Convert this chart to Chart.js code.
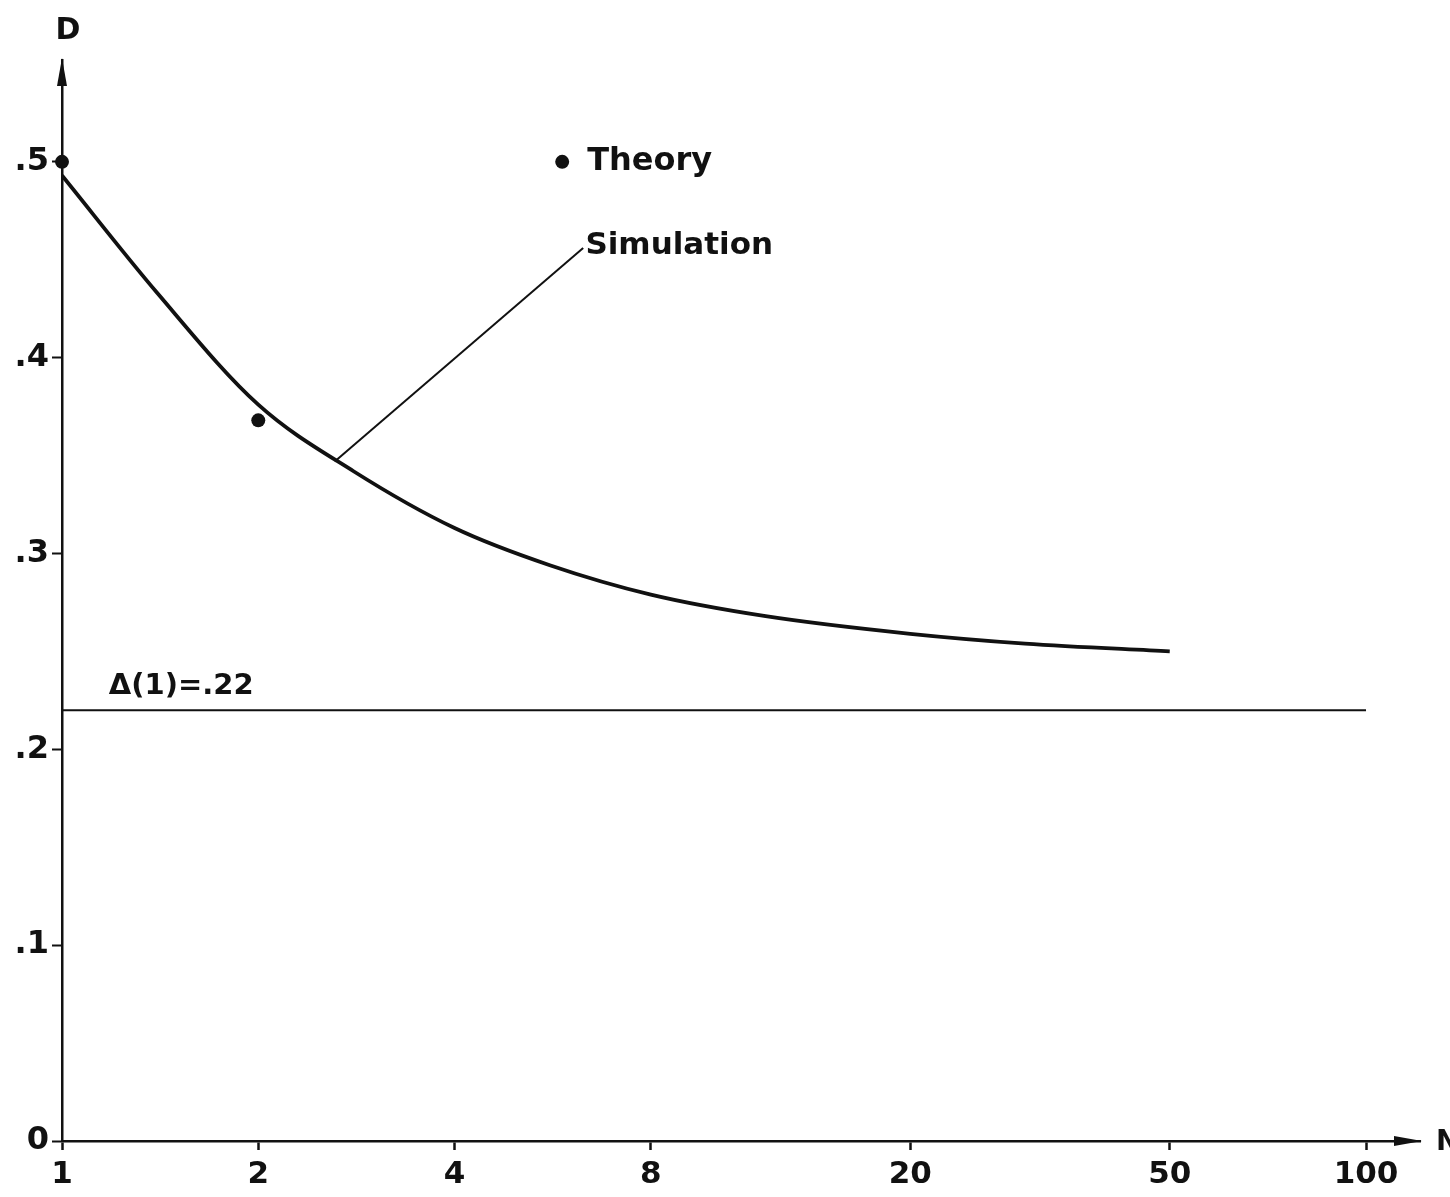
<!doctype html>
<html lang="en">
<head>
<meta charset="utf-8" />
<title>D vs N</title>
<script src="https://cdn.jsdelivr.net/npm/chart.js"></script>
<style>
  html, body { margin: 0; padding: 0; background: #fff; overflow: hidden; }
  canvas { display: block; }
</style>
</head>
<body>
<canvas id="chart" width="1450" height="1197"></canvas>
<script>
// simulation curve
const simN = [1, 1.4, 2, 2.8, 4, 5.6, 8, 12, 20, 30, 50];
const simD = [0.493, 0.433, 0.376, 0.342, 0.313, 0.294, 0.279, 0.268, 0.259, 0.254, 0.250];

// theory points
const theoryN = [1, 2];
const theoryD = [0.5, 0.368];

// asymptote
const deltaN = [1, 100];
const deltaD = [0.22, 0.22];

// leader line from curve to the "Simulation" label
const leaderN = [2.62, 6.3];
const leaderD = [0.347, 0.456];

const xTicks = [1, 2, 4, 8, 20, 50, 100];
const yTicks = [0, 0.1, 0.2, 0.3, 0.4, 0.5];
const yTickText = ["0", ".1", ".2", ".3", ".4", ".5"];

const INK = "#111";
const FONT = '"DejaVu Sans", sans-serif';

const pts = (xs, ys) => xs.map((x, i) => ({ x, y: ys[i] }));

// arrows, axis names and the free text labels
const decor = {
  id: "decor",
  afterDraw(chart) {
    const { ctx, chartArea: a, scales: { x, y } } = chart;
    ctx.save();
    ctx.fillStyle = INK;
    ctx.strokeStyle = INK;

    // y arrow head
    ctx.beginPath();
    ctx.moveTo(a.left, a.top - 2);
    ctx.lineTo(a.left - 5, a.top + 26);
    ctx.lineTo(a.left + 5, a.top + 26);
    ctx.closePath();
    ctx.fill();

    // x arrow head
    ctx.beginPath();
    ctx.moveTo(a.right + 2, a.bottom);
    ctx.lineTo(a.right - 26, a.bottom - 5);
    ctx.lineTo(a.right - 26, a.bottom + 5);
    ctx.closePath();
    ctx.fill();

    ctx.textBaseline = "middle";
    ctx.font = `bold 30px ${FONT}`;
    ctx.textAlign = "center";
    ctx.fillText("D", a.left + 6, 31);
    ctx.textAlign = "left";
    ctx.font = `bold 28px ${FONT}`;
    ctx.fillText("N", a.right + 16, a.bottom + 2);

    // legend marker for Theory
    const lx = x.getPixelForValue(5.85);
    const ly = y.getPixelForValue(0.5);
    ctx.beginPath();
    ctx.arc(lx, ly, 7, 0, Math.PI * 2);
    ctx.fill();
    ctx.font = `bold 32px ${FONT}`;
    ctx.fillText("Theory", lx + 25, ly);

    ctx.font = `600 31px ${FONT}`;
    ctx.fillText("Simulation", x.getPixelForValue(6.35), y.getPixelForValue(0.457));

    ctx.font = `600 29px ${FONT}`;
    ctx.fillText("\u0394(1)=.22", x.getPixelForValue(1.18), y.getPixelForValue(0.232));
    ctx.restore();
  }
};

new Chart(document.getElementById("chart"), {
  type: "line",
  data: {
    datasets: [
      {
        label: "Simulation",
        data: pts(simN, simD),
        borderColor: INK,
        borderWidth: 3.8,
        pointRadius: 0,
        cubicInterpolationMode: "monotone",
        fill: false
      },
      {
        label: "Theory",
        data: pts(theoryN, theoryD),
        showLine: false,
        pointRadius: 7,
        pointBackgroundColor: INK,
        pointBorderWidth: 0,
        clip: false
      },
      {
        label: "Delta(1)",
        data: pts(deltaN, deltaD),
        borderColor: INK,
        borderWidth: 2,
        pointRadius: 0
      },
      {
        label: "leader",
        data: pts(leaderN, leaderD),
        borderColor: INK,
        borderWidth: 2,
        pointRadius: 0
      }
    ]
  },
  options: {
    responsive: false,
    animation: false,
    layout: { padding: { top: 60, right: 30, left: 0, bottom: 0 } },
    plugins: { legend: { display: false }, tooltip: { enabled: false } },
    scales: {
      x: {
        type: "logarithmic",
        min: 1,
        max: 121,
        afterBuildTicks: (s) => { s.ticks = xTicks.map((v) => ({ value: v })); },
        afterFit: (s) => { s.height = 56; },
        grid: { display: true, drawOnChartArea: false, tickLength: 9, tickWidth: 2.5, tickColor: INK },
        border: { display: true, color: INK, width: 2.5 },
        ticks: {
          autoSkip: false,
          maxRotation: 0,
          padding: 6,
          color: INK,
          font: { family: FONT, size: 31, weight: "600" },
          callback: (v) => String(v)
        }
      },
      y: {
        type: "linear",
        min: 0,
        max: 0.552,
        afterBuildTicks: (s) => { s.ticks = yTicks.map((v) => ({ value: v })); },
        afterFit: (s) => { s.width = 62; },
        grid: { display: true, drawOnChartArea: false, tickLength: 10, tickWidth: 2, tickColor: INK },
        border: { display: true, color: INK, width: 2.5 },
        ticks: {
          padding: 3,
          color: INK,
          font: { family: FONT, size: 32, weight: "bold" },
          callback: (v) => yTickText[yTicks.indexOf(v)] ?? ""
        }
      }
    }
  },
  plugins: [decor]
});
</script>
</body>
</html>
